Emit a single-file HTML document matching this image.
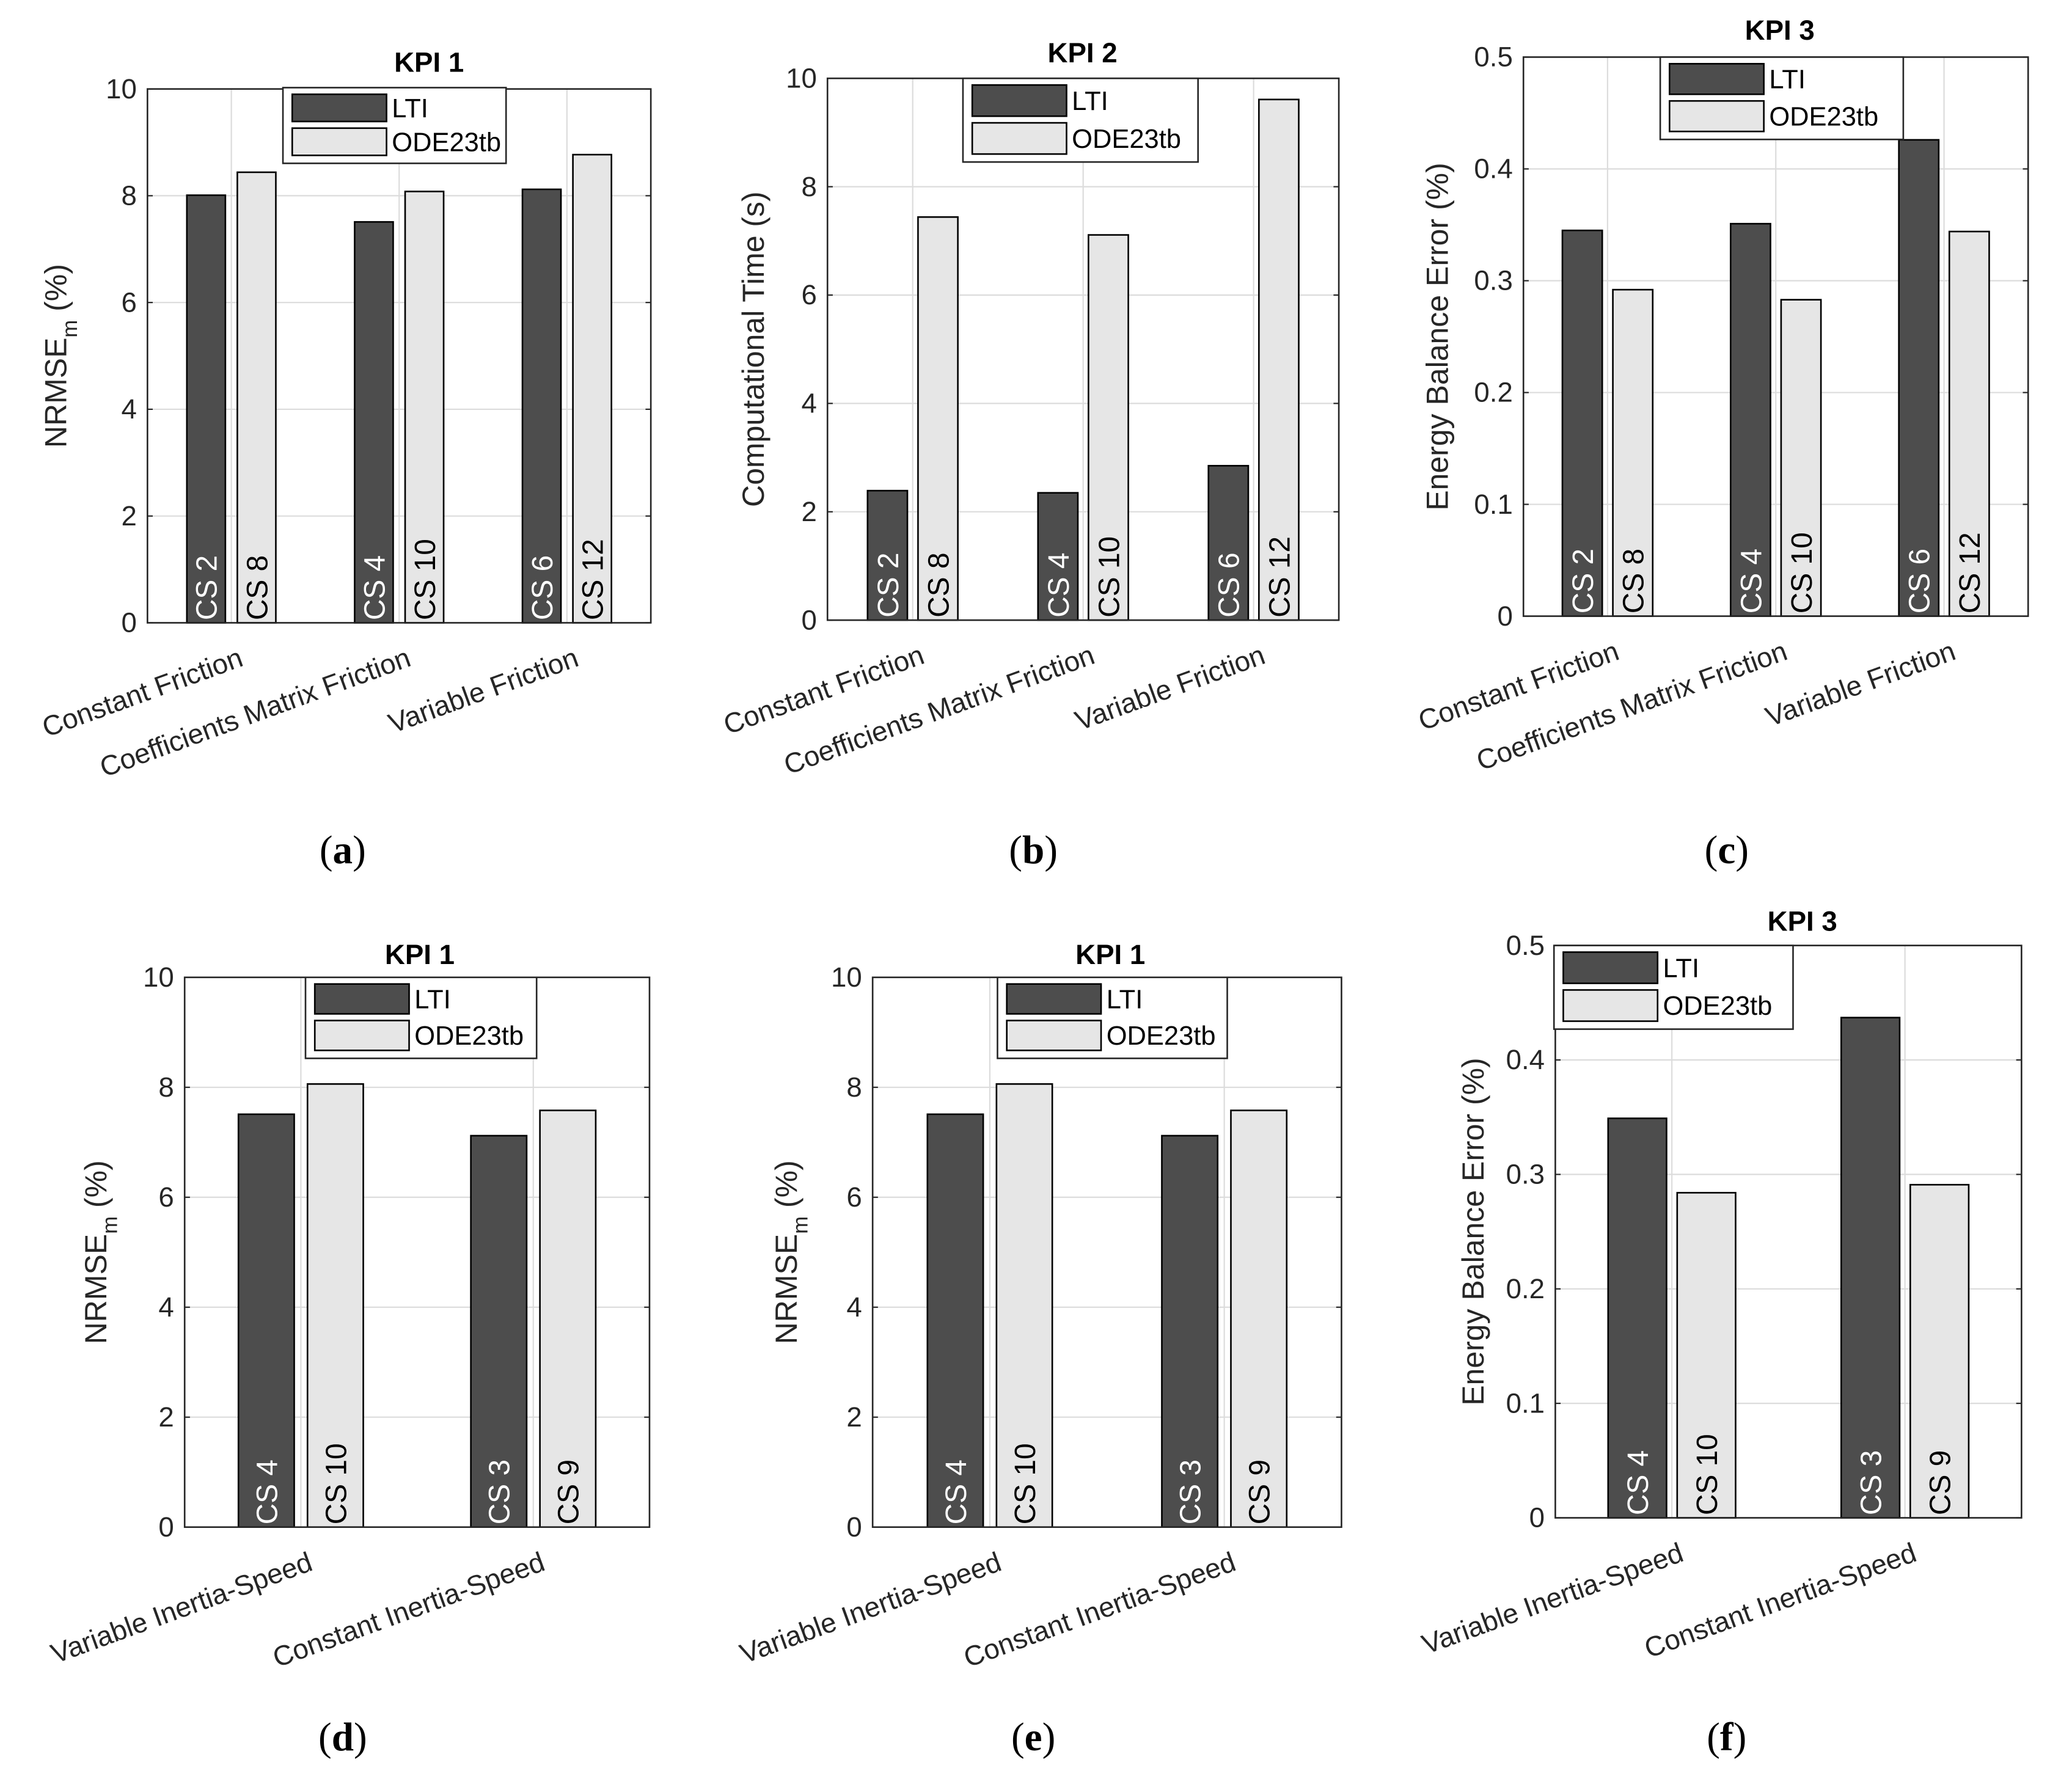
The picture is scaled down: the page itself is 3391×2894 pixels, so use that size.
<!DOCTYPE html>
<html><head><meta charset="utf-8"><style>
html,body{margin:0;padding:0;background:#fff}
svg{display:block}
text{font-family:"Liberation Sans",sans-serif}
</style></head><body>
<svg id="fig" xmlns="http://www.w3.org/2000/svg" width="3391" height="2894" viewBox="0 0 1560 1331.4"></svg>
<script>
// ---- data ----
const catsFriction = ["Constant Friction","Coefficients Matrix Friction","Variable Friction"];
const catsInertia = ["Variable Inertia-Speed","Constant Inertia-Speed"];
const seriesNames = ["LTI","ODE23tb"];
const aLTI = [8.01, 7.51, 8.12];
const aODE = [8.44, 8.08, 8.77];
const aLabLTI = ["CS 2","CS 4","CS 6"];
const aLabODE = ["CS 8","CS 10","CS 12"];
const bLTI = [2.39, 2.35, 2.85];
const bODE = [7.44, 7.11, 9.61];
const cLTI = [0.345, 0.351, 0.426];
const cODE = [0.292, 0.283, 0.344];
const dLTI = [7.51, 7.12];
const dODE = [8.06, 7.58];
const dLabLTI = ["CS 4","CS 3"];
const dLabODE = ["CS 10","CS 9"];
const fLTI = [0.349, 0.437];
const fODE = [0.284, 0.291];
const ticks10 = [0,2,4,6,8,10];
const tickLabels10 = ["0","2","4","6","8","10"];
const ticks05 = [0,0.1,0.2,0.3,0.4,0.5];
const tickLabels05 = ["0","0.1","0.2","0.3","0.4","0.5"];

const NS="http://www.w3.org/2000/svg";
const svg=document.getElementById('fig');
function mk(tag,attrs,parent,txt){const e=document.createElementNS(NS,tag);for(const k in attrs)e.setAttribute(k,attrs[k]);if(txt!==undefined)e.textContent=txt;(parent||svg).appendChild(e);return e;}

const panels=[
 {id:'a',L:111,R:490,T:67,B:469,max:10,ticks:ticks10,tl:tickLabels10,title:'KPI 1',tx:323,ty:54,ylab:'NRMSE',sub:true,ylx:50,cats:catsFriction,lti:aLTI,ode:aODE,ll:aLabLTI,lo:aLabODE,bw:29,gap:9,leg:[213,66,168,57],letter:'a',lx:258},
 {id:'b',L:623,R:1008,T:59,B:467,max:10,ticks:ticks10,tl:tickLabels10,title:'KPI 2',tx:815,ty:47,ylab:'Computational Time (s)',ylx:575,cats:catsFriction,lti:bLTI,ode:bODE,ll:aLabLTI,lo:aLabODE,bw:30,gap:8,leg:[725,59,177,63],letter:'b',lx:778},
 {id:'c',L:1147,R:1527,T:43,B:464,max:0.5,ticks:ticks05,tl:tickLabels05,title:'KPI 3',tx:1340,ty:30,ylab:'Energy Balance Error (%)',ylx:1090,cats:catsFriction,lti:cLTI,ode:cODE,ll:aLabLTI,lo:aLabODE,bw:30,gap:8,leg:[1250,43,183,62],letter:'c',lx:1300},
 {id:'d',L:139,R:489,T:736,B:1150,max:10,ticks:ticks10,tl:tickLabels10,title:'KPI 1',tx:316,ty:726,ylab:'NRMSE',sub:true,ylx:80,cats:catsInertia,lti:dLTI,ode:dODE,ll:dLabLTI,lo:dLabODE,bw:42,gap:10,leg:[230,736,174,61],letter:'d',lx:258},
 {id:'e',L:657,R:1010,T:736,B:1150,max:10,ticks:ticks10,tl:tickLabels10,title:'KPI 1',tx:836,ty:726,ylab:'NRMSE',sub:true,ylx:600,cats:catsInertia,lti:dLTI,ode:dODE,ll:dLabLTI,lo:dLabODE,bw:42,gap:10,leg:[751,736,173,61],letter:'e',lx:778},
 {id:'f',L:1171,R:1522,T:712,B:1143,max:0.5,ticks:ticks05,tl:tickLabels05,title:'KPI 3',tx:1357,ty:701,ylab:'Energy Balance Error (%)',ylx:1117,cats:catsInertia,lti:fLTI,ode:fODE,ll:dLabLTI,lo:dLabODE,bw:44,gap:8,leg:[1170,712,180,63],letter:'f',lx:1300}
];

panels.forEach(p=>{
 const g=mk('g',{});
 
 
 const n=p.cats.length;
 const W=p.R-p.L;
 const y=v=>p.B-(v/p.max)*(p.B-p.T);
 const xc=i=>p.L+W*(i+0.5)/n;
 mk('rect',{x:p.L,y:p.T,width:W,height:p.B-p.T,fill:'#fff'},g);
 p.ticks.forEach((t,k)=>{
  const yy=y(t);
  if(k>0&&k<p.ticks.length-1){const gl=mk('line',{x1:p.L,x2:p.R,y1:yy,y2:yy,stroke:'#dcdcdc','stroke-width':1},g);}
  const tx=mk('text',{x:p.L-8,y:yy+7,'text-anchor':'end','font-size':21,fill:'#262626'},g,p.tl[k]);
  
  mk('line',{x1:p.L,x2:p.L+4,y1:yy,y2:yy,stroke:'#262626'},g);
  mk('line',{x1:p.R,x2:p.R-4,y1:yy,y2:yy,stroke:'#262626'},g);
 });
 for(let i=0;i<n;i++){mk('line',{x1:xc(i),x2:xc(i),y1:p.T,y2:p.B,stroke:'#dcdcdc'},g);}
 for(let i=0;i<n;i++){
  const c=xc(i);
  const x1=c-p.gap/2-p.bw, x2=c+p.gap/2;
  const b1=mk('rect',{x:x1,y:y(p.lti[i]),width:p.bw,height:p.B-y(p.lti[i]),fill:'#4d4d4d',stroke:'#000','stroke-width':1.2},g);
  
  const b2=mk('rect',{x:x2,y:y(p.ode[i]),width:p.bw,height:p.B-y(p.ode[i]),fill:'#e6e6e6',stroke:'#000','stroke-width':1.2},g);
  
  const t1=mk('text',{x:0,y:0,'font-size':22,fill:'#fff',transform:`translate(${x1+p.bw/2+8},${p.B-2}) rotate(-90)`},g,p.ll[i]);
  
  const t2=mk('text',{x:0,y:0,'font-size':22,fill:'#000',transform:`translate(${x2+p.bw/2+8},${p.B-2}) rotate(-90)`},g,p.lo[i]);
  
  const cl=mk('text',{x:0,y:0,'font-size':21,fill:'#262626','text-anchor':'end',transform:`translate(${c+10},${p.B+32}) rotate(-20)`},g,p.cats[i]);
  
 }
 mk('rect',{x:p.L,y:p.T,width:W,height:p.B-p.T,fill:'none',stroke:'#262626','stroke-width':1.2},g);
 const ti=mk('text',{x:p.tx,y:p.ty,'text-anchor':'middle','font-size':21,'font-weight':'bold',fill:'#000'},g,p.title);
 
 const cy=(p.T+p.B)/2;
 const yl=mk('text',{x:0,y:0,'text-anchor':'middle','font-size':23,fill:'#262626',transform:`translate(${p.ylx},${cy}) rotate(-90)`},g);
 
 if(p.sub){mk('tspan',{},yl,'NRMSE');mk('tspan',{dy:8,'font-size':16},yl,'m');mk('tspan',{dy:-8},yl,' (%)');}
 else yl.textContent=p.ylab;
 const [lx,ly,lw,lh]=p.leg;
 const lg=mk('g',{},g);
 
 mk('rect',{x:lx,y:ly,width:lw,height:lh,fill:'#fff',stroke:'#262626','stroke-width':1.2},lg);
 const rh=(lh-12)/2;
 [['#4d4d4d',seriesNames[0]],['#e6e6e6',seriesNames[1]]].forEach((s,k)=>{
  const ry=ly+5+k*(rh+3);
  mk('rect',{x:lx+7,y:ry,width:71,height:rh-2,fill:s[0],stroke:'#000','stroke-width':1.2},lg);
  const lt=mk('text',{x:lx+82,y:ry+rh/2+6,'font-size':20,fill:'#000'},lg,s[1]);
  
 });
 const pl=mk('text',{x:p.lx,y:p.B>1000?1318:650,'text-anchor':'middle','font-size':30,style:'font-family:"Liberation Serif",serif',fill:'#000'},g);
 
 mk('tspan',{},pl,'(');mk('tspan',{'font-weight':'bold'},pl,p.letter);mk('tspan',{},pl,')');
});
</script>
</body></html>
